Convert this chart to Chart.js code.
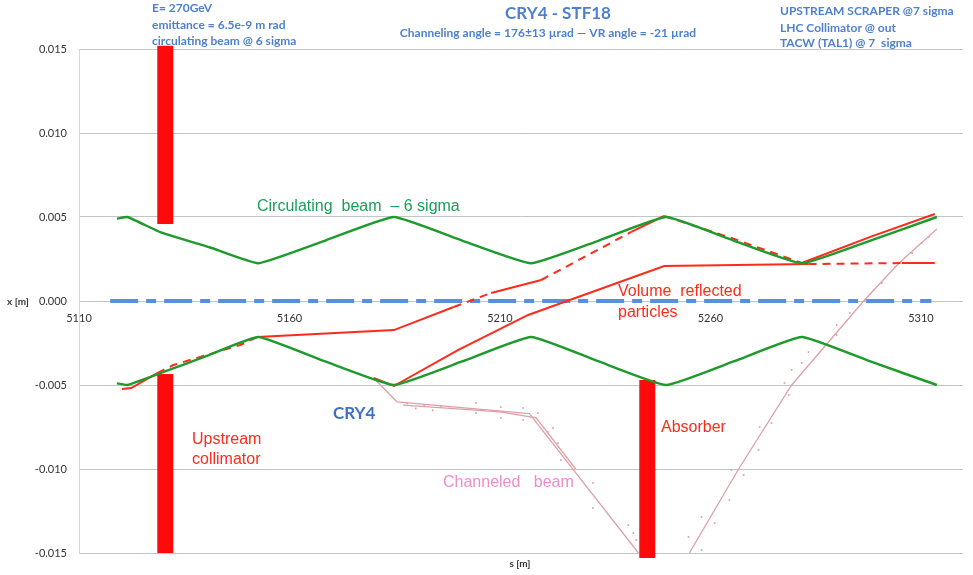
<!DOCTYPE html>
<html>
<head>
<meta charset="utf-8">
<script src="https://cdn.jsdelivr.net/npm/chart.js@4.4.1/dist/chart.umd.min.js"></script>
<style>
html, body { margin: 0; padding: 0; background: #fff; }
#wrap { width: 973px; height: 575px; }
</style>
</head>
<body>
<div id="wrap"><canvas id="beamChart"></canvas></div>
<script>
// s [m] along the ring, x [m] transverse position
var sTicks = [5110, 5160, 5210, 5260, 5310];
var xTicks = [-0.015, -0.010, -0.005, 0, 0.005, 0.010, 0.015];

// circulating beam envelope @ 6 sigma
var envS = [5119.0, 5121.5, 5129.3, 5141.0, 5152.6, 5168.5, 5184.8, 5201.0, 5217.4, 5233.5, 5249.5, 5265.5, 5281.7, 5298.0, 5313.8];
var envUp = [0.0049, 0.0050, 0.0041, 0.0032, 0.00225, 0.0036, 0.0050, 0.0036, 0.00225, 0.0036, 0.0050, 0.0036, 0.00225, 0.0036, 0.0050];
var envLow = [-0.0049, -0.0050, -0.0043, -0.0032, -0.00214, -0.0036, -0.0050, -0.0036, -0.00214, -0.0036, -0.0050, -0.0036, -0.00214, -0.0036, -0.0050];

// volume reflected particles
var vr1S = [5120.2, 5122.4, 5128.6, 5132.4, 5148.3, 5152.4, 5184.8, 5199.0, 5207.9, 5219.8, 5241.2, 5249.0, 5265.0, 5281.7, 5298.3, 5313.3];
var vr1X = [-0.00524, -0.00518, -0.00429, -0.00381, -0.00262, -0.00214, -0.00173, -0.00036, 0.00048, 0.00125, 0.00411, 0.00506, 0.00375, 0.00226, 0.00385, 0.00518];
var vr2S = [5180.0, 5184.8, 5200.0, 5216.7, 5249.0, 5283.3, 5305.5, 5313.3];
var vr2X = [-0.00458, -0.00506, -0.00292, -0.00083, 0.00208, 0.00220, 0.00226, 0.00226];

// channeled beam
var chanS = [5180.0, 5185.5, 5217.0, 5242.9];
var chanX = [-0.00458, -0.0060, -0.0067, -0.0150];
var chan2S = [5187.0, 5210.0, 5218.6, 5228.0];
var chan2X = [-0.0062, -0.0066, -0.00696, -0.0100];
var chan3S = [5255.0, 5266.7, 5279.3, 5296.4, 5304.8, 5313.8];
var chan3X = [-0.0150, -0.0100, -0.0050, 0.0000, 0.00226, 0.00429];
var dotS = [5188, 5190, 5192, 5194, 5196, 5204.3, 5204.3, 5210.2, 5215.5, 5210.2, 5215.5, 5219.0, 5221.4, 5222.6, 5223.8, 5224.5, 5232.1, 5232.1, 5240.5, 5241.7, 5242.4,
            5257.9, 5254.8, 5261.0, 5257.9, 5264.5, 5265.0, 5267.9, 5271.4, 5271.7, 5274.5, 5278.6, 5277.6, 5279.3, 5281.7, 5283.3, 5290.0, 5290.0, 5293.1, 5296.7, 5300.7, 5303.8, 5307.9, 5310.2, 5311.9];
var dotX = [-0.0061, -0.0064, -0.0062, -0.0065, -0.0063, -0.00607, -0.00667, -0.00631, -0.00637, -0.00696, -0.00708, -0.00667, -0.00780, -0.00756, -0.00845, -0.00946, -0.01083, -0.01232, -0.01333, -0.01381, -0.01423,
            -0.01482, -0.01405, -0.01321, -0.01286, -0.01185, -0.01006, -0.01036, -0.00887, -0.00750, -0.00726, -0.00560, -0.00488, -0.00411, -0.00369, -0.00304, -0.00202, -0.00143, -0.00071, 0.00006, 0.00107, 0.00202, 0.00286, 0.00345, 0.00381];

// closed orbit / crystal plane
var orbitS = [5117.4, 5312.5];
var orbitX = [0, 0];

// upstream collimator jaws and absorber
var collS = [5130.5, 5130.5];
var collUpX = [0.0152, 0.00458];
var collLowX = [-0.00435, -0.0150];
var absS = [5245.0, 5245.0];
var absX = [-0.0047, -0.0153];

function pts(sArr, xArr) {
    return sArr.map(function (s, i) { return { x: s, y: xArr[i] }; });
}

// dashed stretches of the red tracks (style only)
var r1Dashed = [[5129, 5152], [5199, 5208], [5220, 5241], [5249, 5282]];
var r2Dashed = [[5283, 5306]];
function dashIn(ranges) {
    return function (ctx) {
        var mid = (ctx.p0.parsed.x + ctx.p1.parsed.x) / 2;
        for (var i = 0; i < ranges.length; i++) {
            if (mid > ranges[i][0] && mid < ranges[i][1]) return [8, 6];
        }
        return undefined;
    };
}

var green = '#1f9a2c';
var red = '#ff2a1a';
var pink = '#dea0a8';
var head = '#4f80cf';

var texts = [
    { t: 'E= 270GeV', x: 152, y: 8, f: 'bold 12px Lato', c: head, a: 'left' },
    { t: 'emittance = 6.5e-9 m rad', x: 152, y: 25, f: 'bold 12px Lato', c: head, a: 'left' },
    { t: 'circulating beam @ 6 sigma', x: 152, y: 41, f: 'bold 12px Lato', c: head, a: 'left' },
    { t: 'CRY4 - STF18', x: 558, y: 14, f: 'bold 17px Lato', c: head, a: 'center' },
    { t: 'Channeling angle = 176±13 µrad — VR angle = -21 µrad', x: 548, y: 33, f: 'bold 12px Lato', c: head, a: 'center' },
    { t: 'UPSTREAM SCRAPER @7 sigma', x: 780, y: 11, f: 'bold 12px Lato', c: head, a: 'left' },
    { t: 'LHC Collimator @ out', x: 780, y: 28, f: 'bold 12px Lato', c: head, a: 'left' },
    { t: 'TACW (TAL1) @ 7  sigma', x: 780, y: 43, f: 'bold 12px Lato', c: head, a: 'left' },
    { t: 'Circulating  beam  – 6 sigma', x: 257, y: 207, f: '16px "Liberation Sans"', c: '#1aa05a', a: 'left' },
    { t: 'Volume  reflected', x: 618, y: 292, f: '16px "Liberation Sans"', c: red, a: 'left' },
    { t: 'particles', x: 618, y: 313, f: '16px "Liberation Sans"', c: red, a: 'left' },
    { t: 'CRY4', x: 333, y: 414, f: 'bold 17px Lato', c: '#3f70c4', a: 'left' },
    { t: 'Upstream', x: 192, y: 440, f: '16px "Liberation Sans"', c: red, a: 'left' },
    { t: 'collimator', x: 192, y: 460, f: '16px "Liberation Sans"', c: red, a: 'left' },
    { t: 'Absorber', x: 661, y: 428, f: '16px "Liberation Sans"', c: red, a: 'left' },
    { t: 'Channeled   beam', x: 443, y: 483, f: '16px "Liberation Sans"', c: '#f08ccb', a: 'left' },
    { t: 'x [m]', x: 18, y: 302, f: 'bold 10px Lato', c: '#333', a: 'center' },
    { t: 's [m]', x: 520, y: 564, f: 'bold 10px Lato', c: '#333', a: 'center' }
];

var textPlugin = {
    id: 'freeText',
    afterDraw: function (chart) {
        var ctx = chart.ctx;
        ctx.save();
        ctx.textBaseline = 'middle';
        texts.forEach(function (d) {
            ctx.font = d.f;
            ctx.fillStyle = d.c;
            ctx.textAlign = d.a;
            ctx.fillText(d.t, d.x, d.y);
        });
        ctx.restore();
    }
};

function lineSet(data, color, width, extra) {
    var ds = {
        data: data,
        borderColor: color,
        backgroundColor: color,
        borderWidth: width,
        pointRadius: 0,
        fill: false,
        showLine: true,
        tension: 0
    };
    for (var k in extra) ds[k] = extra[k];
    return ds;
}

new Chart(document.getElementById('beamChart').getContext('2d'), {
    type: 'scatter',
    data: {
        datasets: [
            lineSet(pts(envS, envUp), green, 2.4, { tension: 0.12 }),
            lineSet(pts(envS, envLow), green, 2.4, { tension: 0.12 }),
            lineSet(pts(vr1S, vr1X), red, 2, { segment: { borderDash: dashIn(r1Dashed) } }),
            lineSet(pts(vr2S, vr2X), red, 2, { segment: { borderDash: dashIn(r2Dashed) } }),
            lineSet(pts(chanS, chanX), pink, 1.3, {}),
            lineSet(pts(chan2S, chan2X), pink, 1.3, {}),
            lineSet(pts(chan3S, chan3X), pink, 1.3, {}),
            { data: pts(dotS, dotX), showLine: false, pointRadius: 1, pointBorderWidth: 0, backgroundColor: '#dca4ab' },
            lineSet(pts(orbitS, orbitX), '#5a8fdb', 4, { borderDash: [28, 8, 10, 8] }),
            lineSet(pts(collS, collUpX), '#ff0a0a', 16, { clip: 6, borderCapStyle: 'butt' }),
            lineSet(pts(collS, collLowX), '#ff0a0a', 16, { clip: 6, borderCapStyle: 'butt' }),
            lineSet(pts(absS, absX), '#ff0a0a', 16, { clip: 8, borderCapStyle: 'butt' })
        ]
    },
    options: {
        responsive: true,
        maintainAspectRatio: false,
        animation: false,
        layout: { padding: { left: 0, right: 10, top: 49, bottom: 22 } },
        plugins: {
            legend: { display: false },
            tooltip: { enabled: false }
        },
        scales: {
            x: {
                type: 'linear',
                min: 5110,
                max: 5320,
                position: { y: 0 },
                afterBuildTicks: function (scale) {
                    scale.ticks = sTicks.map(function (v) { return { value: v }; });
                },
                grid: { display: false, drawTicks: false },
                border: { display: false },
                ticks: {
                    padding: 11,
                    maxRotation: 0,
                    color: '#333',
                    font: { family: 'Lato', size: 11 },
                    callback: function (v) { return v; }
                }
            },
            y: {
                min: -0.015,
                max: 0.015,
                afterFit: function (scale) { scale.width = 79; },
                afterBuildTicks: function (scale) {
                    scale.ticks = xTicks.map(function (v) { return { value: v }; });
                },
                grid: { color: '#c4c4c4', lineWidth: 1, drawTicks: false },
                border: { display: true, color: '#d6d6d6' },
                ticks: {
                    padding: 12,
                    color: '#333',
                    font: { family: 'Lato', size: 11 },
                    callback: function (v) { return v.toFixed(3); }
                }
            }
        }
    },
    plugins: [textPlugin]
});
</script>
</body>
</html>
